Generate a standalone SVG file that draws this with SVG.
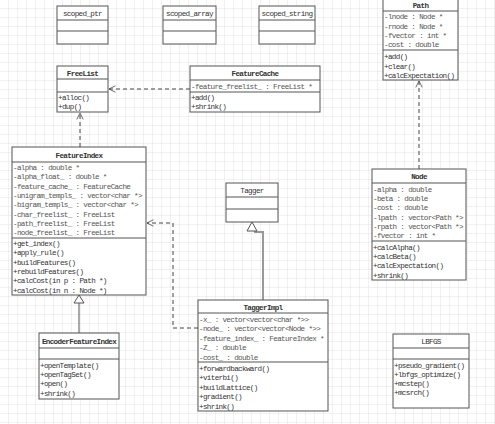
<svg xmlns="http://www.w3.org/2000/svg" width="495" height="424" viewBox="0 0 495 424">
<style>
.box{fill:#fff;stroke:#555;stroke-width:1}
.div{stroke:#555;stroke-width:1}
.t{font-family:"Liberation Mono","Courier New",monospace;font-size:7.6px;letter-spacing:-0.65px;fill:#333}
.a{font-family:"Liberation Mono","Courier New",monospace;font-size:7.6px;letter-spacing:-0.65px;fill:#555}
.b{font-weight:bold}
.dash{fill:none;stroke:#444;stroke-width:1;stroke-dasharray:4,3}
.solid{fill:none;stroke:#555;stroke-width:1}
</style>
<defs>
<pattern id="grid" width="9" height="9" patternUnits="userSpaceOnUse">
<path d="M9 0V9M0 9H9" fill="none" stroke="#e2e2e2" stroke-width="1"/>
</pattern>
<marker id="open" viewBox="0 0 10 10" refX="9" refY="5" markerWidth="8" markerHeight="8" orient="auto" markerUnits="userSpaceOnUse">
<path d="M1 1L9 5L1 9" fill="none" stroke="#444" stroke-width="1"/>
</marker>
</defs>
<rect width="495" height="424" fill="#fff"/>
<rect width="495" height="424" fill="url(#grid)"/>

<g id="connectors">
<path class="dash" d="M190 89H109" marker-end="url(#open)"/>
<path class="dash" d="M80 147V113" marker-end="url(#open)"/>
<path class="dash" d="M419 169V81" marker-end="url(#open)"/>
<path class="dash" d="M198 328H173V223H147" marker-end="url(#open)"/>
<path class="solid" d="M79 333V303"/>
<path d="M79 295L84 303H74Z" fill="#fff" stroke="#555"/>
<path d="M263 300V232H254" fill="none" stroke="#999" stroke-width="2"/>
<path d="M252 222L257 231H247Z" fill="#fff" stroke="#555"/>
</g>

<g id="scoped_ptr">
<rect class="box" x="57" y="6" width="51" height="38"/>
<path class="div" d="M57 20H108M57 31H108"/>
<text class="t" x="82.5" y="16" text-anchor="middle">scoped_ptr</text>
</g>
<g id="scoped_array">
<rect class="box" x="163" y="6" width="53" height="38"/>
<path class="div" d="M163 20H216M163 31H216"/>
<text class="t" x="189.5" y="16" text-anchor="middle">scoped_array</text>
</g>
<g id="scoped_string">
<rect class="box" x="259" y="6" width="56" height="38"/>
<path class="div" d="M259 20H315M259 31H315"/>
<text class="t" x="287" y="16" text-anchor="middle">scoped_string</text>
</g>

<g id="Path">
<rect class="box" x="383" y="-1" width="75" height="81"/>
<path class="div" d="M383 11H458M383 50H458"/>
<text class="t b" x="420.5" y="8" text-anchor="middle">Path</text>
<text class="a" x="384" y="19">-lnode : Node *</text>
<text class="a" x="384" y="29">-rnode : Node *</text>
<text class="a" x="384" y="38">-fvector : int *</text>
<text class="a" x="384" y="47">-cost : double</text>
<text class="t" x="384" y="59">+add()</text>
<text class="t" x="384" y="69">+clear()</text>
<text class="t" x="384" y="78">+calcExpectation()</text>
</g>

<g id="FreeList">
<rect class="box" x="57" y="66" width="51" height="46"/>
<path class="div" d="M57 79H108M57 92H108"/>
<text class="t b" x="82.5" y="75.5" text-anchor="middle">FreeList</text>
<text class="t" x="58" y="100">+alloc()</text>
<text class="t" x="58" y="109">+dup()</text>
</g>

<g id="FeatureCache">
<rect class="box" x="190" y="66" width="130" height="46"/>
<path class="div" d="M190 80H320M190 92H320"/>
<text class="t b" x="255" y="76" text-anchor="middle">FeatureCache</text>
<text class="a" x="191" y="89">-feature_freelist_ : FreeList *</text>
<text class="t" x="191" y="100">+add()</text>
<text class="t" x="191" y="109">+shrink()</text>
</g>

<g id="FeatureIndex">
<rect class="box" x="12" y="147" width="134" height="148"/>
<path class="div" d="M12 162H146M12 238H146"/>
<text class="t b" x="79" y="158" text-anchor="middle">FeatureIndex</text>
<text class="a" x="13" y="170">-alpha : double *</text>
<text class="a" x="13" y="179.3">-alpha_float_ : double *</text>
<text class="a" x="13" y="188.6">-feature_cache_ : FeatureCache</text>
<text class="a" x="13" y="198">-unigram_templs_ : vector&lt;char *&gt;</text>
<text class="a" x="13" y="207.3">-bigram_templs_ : vector&lt;char *&gt;</text>
<text class="a" x="13" y="216.6">-char_freelist_ : FreeList</text>
<text class="a" x="13" y="226">-path_freelist_ : FreeList</text>
<text class="a" x="13" y="235.3">-node_freelist_ : FreeList</text>
<text class="t" x="13" y="246">+get_index()</text>
<text class="t" x="13" y="255.3">+apply_rule()</text>
<text class="t" x="13" y="264.6">+buildFeatures()</text>
<text class="t" x="13" y="274">+rebuildFeatures()</text>
<text class="t" x="13" y="283.3">+calcCost(in p : Path *)</text>
<text class="t" x="13" y="292.6">+calcCost(in n : Node *)</text>
</g>

<g id="EncoderFeatureIndex">
<rect class="box" x="39" y="333" width="80" height="66"/>
<path class="div" d="M39 348H119M39 359H119"/>
<text class="t b" x="79" y="344" text-anchor="middle">EncoderFeatureIndex</text>
<text class="t" x="40" y="368">+openTemplate()</text>
<text class="t" x="40" y="377">+openTagSet()</text>
<text class="t" x="40" y="386">+open()</text>
<text class="t" x="40" y="396">+shrink()</text>
</g>

<g id="Tagger">
<rect class="box" x="226" y="183" width="52" height="39"/>
<path class="div" d="M226 197H278M226 209H278"/>
<text class="t" x="252" y="193" text-anchor="middle">Tagger</text>
</g>

<g id="TaggerImpl">
<rect class="box" x="198" y="300" width="130" height="111"/>
<path class="div" d="M198 313H328M198 362H328"/>
<text class="t b" x="263" y="310" text-anchor="middle">TaggerImpl</text>
<text class="a" x="199" y="322">-x_ : vector&lt;vector&lt;char *&gt;&gt;</text>
<text class="a" x="199" y="331.4">-node_ : vector&lt;vector&lt;Node *&gt;&gt;</text>
<text class="a" x="199" y="340.8">-feature_index_ : FeatureIndex *</text>
<text class="a" x="199" y="350.2">-Z_ : double</text>
<text class="a" x="199" y="359.6">-cost_ : double</text>
<text class="t" x="199" y="371">+forwardbackward()</text>
<text class="t" x="199" y="380.4">+viterbi()</text>
<text class="t" x="199" y="389.8">+buildLattice()</text>
<text class="t" x="199" y="399.2">+gradient()</text>
<text class="t" x="199" y="408.6">+shrink()</text>
</g>

<g id="Node">
<rect class="box" x="372" y="169" width="94" height="111"/>
<path class="div" d="M372 183H466M372 241H466"/>
<text class="t b" x="419" y="179" text-anchor="middle">Node</text>
<text class="a" x="373" y="192">-alpha : double</text>
<text class="a" x="373" y="201.2">-beta : double</text>
<text class="a" x="373" y="210.4">-cost : double</text>
<text class="a" x="373" y="219.6">-lpath : vector&lt;Path *&gt;</text>
<text class="a" x="373" y="228.8">-rpath : vector&lt;Path *&gt;</text>
<text class="a" x="373" y="238">-fvector : int *</text>
<text class="t" x="373" y="250">+calcAlpha()</text>
<text class="t" x="373" y="259.2">+calcBeta()</text>
<text class="t" x="373" y="268.4">+calcExpectation()</text>
<text class="t" x="373" y="277.6">+shrink()</text>
</g>

<g id="LBFGS">
<rect class="box" x="393" y="334" width="76" height="74"/>
<path class="div" d="M393 348H469M393 359H469"/>
<text class="t" x="431" y="344" text-anchor="middle">LBFGS</text>
<text class="t" x="394" y="368">+pseudo_gradient()</text>
<text class="t" x="394" y="377">+lbfgs_optimize()</text>
<text class="t" x="394" y="386">+mcstep()</text>
<text class="t" x="394" y="395">+mcsrch()</text>
</g>
</svg>
